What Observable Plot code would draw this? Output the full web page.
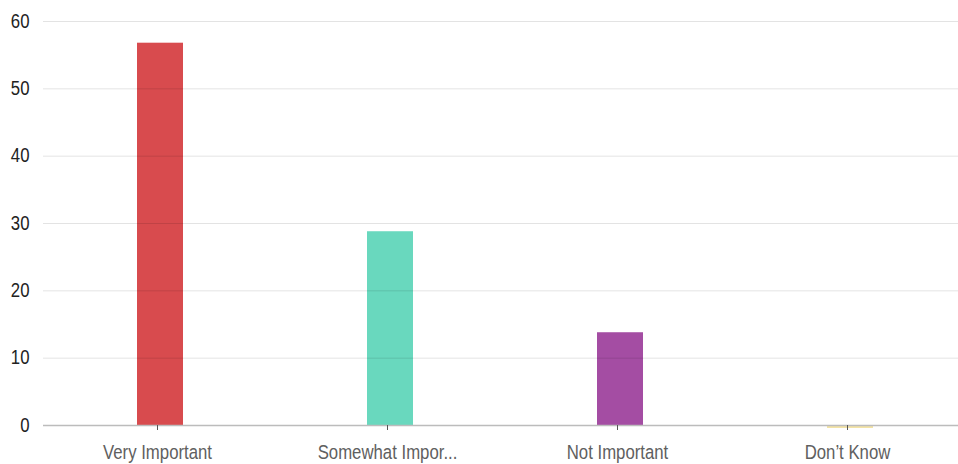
<!DOCTYPE html>
<html>
<head>
<meta charset="utf-8">
<script src="https://cdn.jsdelivr.net/npm/d3@7"></script>
<script src="https://cdn.jsdelivr.net/npm/@observablehq/plot@0.6"></script>
<style>
  html, body { margin: 0; padding: 0; background: #fff; }
  #chart svg { display: block; }
</style>
</head>
<body>
<div id="chart"></div>
<script>
const categories = ["Very Important", "Somewhat Impor...", "Not Important", "Don\u2019t Know"];
const values = [57, 29, 14, 0];
const colors = ["#d84b4e", "#69d8be", "#a44da3", "#f3e3a6"];
const yTicks = [0, 10, 20, 30, 40, 50, 60];

const data = categories.map((c, i) => ({category: c, value: values[i], color: colors[i]}));

const chart = Plot.plot({
  width: 958,
  height: 464,
  marginLeft: 43,
  marginRight: 0,
  marginTop: 21,
  marginBottom: 39,
  style: {fontFamily: "'Liberation Sans', Arial, sans-serif", fontSize: "19.5px", background: "#fff"},
  x: {domain: categories, range: [44, 966], paddingInner: 0.8, paddingOuter: 0.4, label: null},
  y: {domain: [0, 60], ticks: yTicks, label: null},
  marks: [
    Plot.barY(data.filter(d => d.value > 0), {x: "category", y: "value", fill: "color", insetTop: 1.5}),
    Plot.tickY(data.filter(d => d.value === 0), {x: "category", y: "value", stroke: "color", strokeWidth: 2, dy: 1.5}),
    Plot.gridY(yTicks.filter(d => d > 0), {stroke: "#000", strokeOpacity: 0.11, strokeWidth: 1}),
    Plot.ruleY([0], {stroke: "#bcbcbc", strokeWidth: 1.5}),
    Plot.axisY({ticks: yTicks, tickSize: 0, tickPadding: 14, fill: "#222", label: null}),
    Plot.axisX({tickSize: 5, tickPadding: 15, stroke: "#555", fill: "#606060", label: null, dx: -3})
  ]
});
document.getElementById("chart").append(chart);

// narrow the glyphs horizontally to match the condensed face of the reference
const squeeze = 0.86;
chart.querySelectorAll("text").forEach(t => {
  const x = +(t.getAttribute("x") || 0);
  const tr = t.getAttribute("transform") || "";
  t.setAttribute("transform", `${tr} translate(${x},0) scale(${squeeze},1) translate(${-x},0)`);
});
</script>
</body>
</html>
